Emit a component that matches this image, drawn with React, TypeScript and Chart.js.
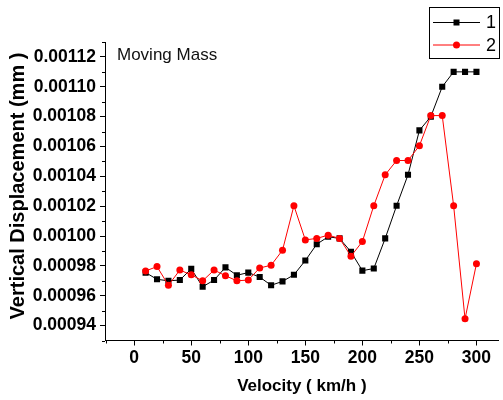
import React, { useEffect, useRef } from "react";
import { Chart, registerables } from "chart.js";

Chart.register(...registerables);

const velocities = [10, 20, 30, 40, 50, 60, 70, 80, 90, 100, 110, 120, 130, 140, 150, 160, 170, 180, 190, 200, 210, 220, 230, 240, 250, 260, 270, 280, 290, 300];

const series1 = [
  0.0009755, 0.000971, 0.00097, 0.0009705, 0.000978, 0.000966, 0.0009705, 0.000979, 0.0009737, 0.0009755,
  0.0009725, 0.000967, 0.0009696, 0.000974, 0.0009836, 0.0009945, 0.0009995, 0.0009984, 0.0009894, 0.0009768,
  0.0009782, 0.0009984, 0.0010203, 0.001041, 0.0010708, 0.00108, 0.0011, 0.00111, 0.00111, 0.00111,
];

const series2 = [
  0.0009766, 0.0009795, 0.000967, 0.0009772, 0.000974, 0.00097, 0.0009772, 0.0009734, 0.00097, 0.0009705,
  0.0009786, 0.0009804, 0.0009905, 0.0010203, 0.0009974, 0.0009984, 0.0010006, 0.0009984, 0.0009865, 0.0009963,
  0.0010203, 0.001041, 0.0010506, 0.0010506, 0.0010605, 0.0010807, 0.0010807, 0.0010203, 0.0009445, 0.0009815,
];

const seriesLabels = ["1", "2"];
const seriesColors = ["#000000", "#ff0000"];
const yTickValues = [0.00094, 0.00096, 0.00098, 0.001, 0.00102, 0.00104, 0.00106, 0.00108, 0.0011, 0.00112];
const yTickLabels = ["0.00094", "0.00096", "0.00098", "0.00100", "0.00102", "0.00104", "0.00106", "0.00108", "0.00110", "0.00112"];
const xTickValues = [0, 50, 100, 150, 200, 250, 300];
const chartTitle = "Moving Mass";
const xTitle = "Velocity ( km/h )";
const yTitle = "Vertical Displacement (mm )";

const FONT = 'Arial, "Liberation Sans", sans-serif';

const overlayPlugin = {
  id: "overlay",
  afterDraw(chart: any) {
    const ctx = chart.ctx as CanvasRenderingContext2D;
    const xs = chart.scales.x;
    const ys = chart.scales.y;
    const area = chart.chartArea;
    ctx.save();
    ctx.strokeStyle = "#000";
    ctx.lineWidth = 1;
    // minor y ticks (every 0.00001, odd multiples)
    for (let k = 93; k <= 113; k++) {
      if (k % 2 === 0) continue;
      const v = k * 1e-5;
      if (v < ys.min - 1e-12 || v > ys.max + 1e-12) continue;
      const py = Math.round(ys.getPixelForValue(v)) + 0.5;
      ctx.beginPath();
      ctx.moveTo(area.left - 3, py);
      ctx.lineTo(area.left, py);
      ctx.stroke();
    }
    // minor x ticks
    for (let v = -25; v <= 325; v += 50) {
      if (v < xs.min || v > xs.max) continue;
      const px = Math.round(xs.getPixelForValue(v)) + 0.5;
      ctx.beginPath();
      ctx.moveTo(px, area.bottom);
      ctx.lineTo(px, area.bottom + 3);
      ctx.stroke();
    }
    // y axis title
    ctx.save();
    ctx.translate(18.5, 186);
    ctx.rotate(-Math.PI / 2);
    ctx.fillStyle = "#000";
    ctx.font = `bold 20px ${FONT}`;
    ctx.textAlign = "center";
    ctx.textBaseline = "middle";
    ctx.fillText(yTitle, 0, 0);
    ctx.restore();

    // title text inside plot
    ctx.fillStyle = "#111";
    ctx.font = `17px ${FONT}`;
    ctx.textAlign = "left";
    ctx.textBaseline = "alphabetic";
    ctx.fillText(chartTitle, area.left + 12, area.top + 18);

    // legend box
    const bx = 429.5, by = 7.5, bw = 70, bh = 51;
    ctx.fillStyle = "#fff";
    ctx.fillRect(bx, by, bw, bh);
    ctx.strokeStyle = "#000";
    ctx.strokeRect(bx, by, bw, bh);
    const rows = [22.5, 45];
    seriesLabels.forEach((lab, i) => {
      const y = rows[i];
      ctx.strokeStyle = seriesColors[i];
      ctx.lineWidth = 1;
      ctx.beginPath();
      ctx.moveTo(433, y);
      ctx.lineTo(480, y);
      ctx.stroke();
      ctx.fillStyle = seriesColors[i];
      if (i === 0) {
        ctx.fillRect(456.5 - 3, y - 3, 6, 6);
      } else {
        ctx.beginPath();
        ctx.arc(456.5, y, 3.5, 0, Math.PI * 2);
        ctx.fill();
      }
      ctx.fillStyle = "#000";
      ctx.font = `18px ${FONT}`;
      ctx.textAlign = "left";
      ctx.textBaseline = "middle";
      ctx.fillText(lab, 486, y + 1);
    });
    ctx.restore();
  },
};

export default function App() {
  const canvasRef = useRef<HTMLCanvasElement | null>(null);

  useEffect(() => {
    if (!canvasRef.current) return;
    const toPoints = (arr: number[]) => velocities.map((v, i) => ({ x: v, y: arr[i] }));
    const chart = new Chart(canvasRef.current, {
      type: "line",
      data: {
        datasets: [
          {
            label: seriesLabels[0],
            data: toPoints(series1),
            borderColor: seriesColors[0],
            backgroundColor: seriesColors[0],
            borderWidth: 1,
            pointStyle: "rect",
            pointRadius: 4.3,
            pointBorderWidth: 0,
            pointBackgroundColor: seriesColors[0],
            order: 1,
            tension: 0,
          },
          {
            label: seriesLabels[1],
            data: toPoints(series2),
            borderColor: seriesColors[1],
            backgroundColor: seriesColors[1],
            borderWidth: 1,
            pointStyle: "circle",
            pointRadius: 3.5,
            pointBorderWidth: 0,
            pointBackgroundColor: seriesColors[1],
            order: 0,
            tension: 0,
          },
        ],
      },
      options: {
        animation: false,
        responsive: false,
        devicePixelRatio: 1,
        layout: { padding: { top: 42, right: 3, left: 0, bottom: 0 } },
        plugins: {
          legend: { display: false },
          title: { display: false },
          tooltip: { enabled: false },
        },
        scales: {
          x: {
            type: "linear",
            min: -25.6,
            max: 319.5,
            afterFit: (s: any) => {
              s.height = 59.5;
            },
            afterBuildTicks: (s: any) => {
              s.ticks = xTickValues.map((v) => ({ value: v }));
            },
            grid: { display: true, drawOnChartArea: false, drawTicks: true, tickLength: 5, color: "#000", lineWidth: 1 },
            border: { display: true, color: "#000", width: 1 },
            ticks: {
              color: "#000",
              padding: 2,
              maxRotation: 0,
              autoSkip: false,
              font: { family: FONT, size: 17.5, weight: "bold" },
              callback: (v: any) => String(v),
            },
            title: {
              display: true,
              text: xTitle,
              color: "#000",
              font: { family: FONT, size: 17, weight: "bold" },
              padding: { top: 0, bottom: 3 },
            },
          },
          y: {
            type: "linear",
            min: 0.00093,
            max: 0.00113,
            afterFit: (s: any) => {
              s.width = 105;
            },
            afterBuildTicks: (s: any) => {
              s.ticks = yTickValues.map((v) => ({ value: v }));
            },
            grid: { display: true, drawOnChartArea: false, drawTicks: true, tickLength: 5, color: "#000", lineWidth: 1 },
            border: { display: true, color: "#000", width: 1 },
            ticks: {
              color: "#000",
              padding: 4,
              autoSkip: false,
              font: { family: FONT, size: 17.5, weight: "bold" },
              callback: (v: any) => {
                const idx = yTickValues.findIndex((t) => Math.abs(t - v) < 1e-10);
                return idx >= 0 ? yTickLabels[idx] : "";
              },
            },
            title: { display: false },
          },
        },
      },
      plugins: [overlayPlugin],
    });
    return () => chart.destroy();
  }, []);

  return (
    <div style={{ position: "absolute", left: 0, top: 0, width: 503, height: 400, background: "#fff" }}>
      <canvas ref={canvasRef} width={503} height={400} style={{ width: 503, height: 400, display: "block" }} />
    </div>
  );
}
